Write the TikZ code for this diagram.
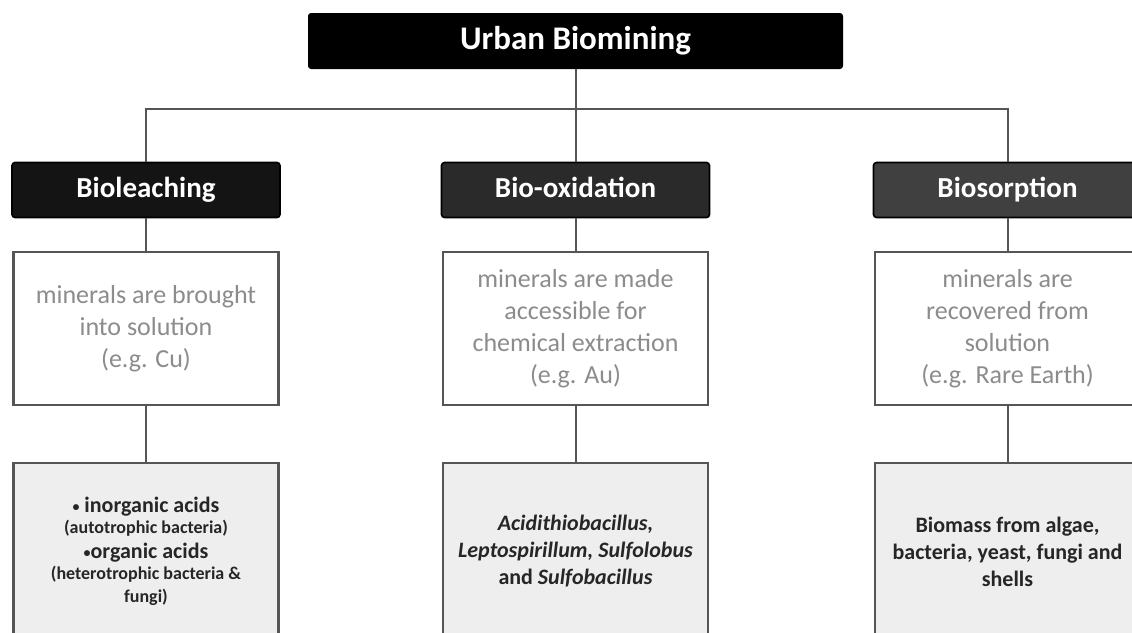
\documentclass[tikz,border=0pt]{standalone}
\usepackage{fontspec}
\setmainfont{Carlito}
\usepackage{tikz}
\definecolor{linegray}{HTML}{555555}
\definecolor{txtgray}{HTML}{8C8C8C}
\definecolor{boxfill}{HTML}{EEEEEE}
\definecolor{darkA}{HTML}{141414}
\definecolor{darkB}{HTML}{2A2A2A}
\definecolor{darkC}{HTML}{404040}
\newcommand{\smallbullet}{{\fontsize{7}{8}\selectfont\raisebox{0.8pt}{\textbullet}}}

\begin{document}
\begin{tikzpicture}[x=0.5pt,y=-0.5pt,
	conn/.style={draw=linegray, line width=1pt},
	topbox/.style={fill=black, rounded corners=1.5pt, text=white, font=\bfseries\fontsize{16.5}{20}\selectfont, minimum width=267.5pt, minimum height=28pt, inner sep=0pt, text height=11.5pt, text depth=3.5pt},
	headbox/.style={fill=#1, draw=black, line width=0.8pt, rounded corners=1.5pt, text=white, font=\bfseries\fontsize{14.5}{17}\selectfont, minimum width=134pt, minimum height=27.5pt, inner sep=0pt, text height=10pt, text depth=3pt},
	infobox/.style={draw=linegray, line width=1.2pt, fill=white, text=txtgray, align=center, font=\fontsize{13}{16}\selectfont, minimum width=132.5pt, minimum height=76.5pt, inner sep=0pt},
	orgbox/.style={draw=linegray, line width=1.2pt, fill=boxfill, text=black!85, align=center, font=\bfseries\fontsize{11}{13.5}\selectfont, minimum width=132.5pt, minimum height=88.5pt, inner sep=0pt}]
	\clip (0,0) rectangle (1132,633);
	\useasboundingbox (0,0) rectangle (1132,633);
	\node[topbox] (top) at (575.5,41) {Urban Biomining};
	\node[headbox=darkA] (head1) at (146,190) {Bioleaching};
	\node[headbox=darkB] (head2) at (575.5,190) {Bio-oxidation};
	\node[headbox=darkC] (head3) at (1007.5,190) {Biosorption};
	\node[infobox] (info1) at (146,328.5) {minerals are brought\\into solution\\(e.g. Cu)};
	\node[infobox] (info2) at (575.5,328.5) {minerals are made\\accessible for\\chemical extraction\\(e.g. Au)};
	\node[infobox] (info3) at (1007.5,328.5) {minerals are\\recovered from\\solution\\(e.g. Rare Earth)};
	\node[orgbox] (org1) at (146,551.5) {\smallbullet\ inorganic acids\\[-3pt]{\fontsize{9}{11}\selectfont(autotrophic bacteria)}\\[-1pt]\smallbullet organic acids\\[-3pt]{\fontsize{9}{11}\selectfont(heterotrophic bacteria \&}\\[-2pt]{\fontsize{9}{11}\selectfont fungi)}};
	\node[orgbox] (org2) at (575.5,551.5) {\textit{Acidithiobacillus,}\\\textit{Leptospirillum, Sulfolobus}\\and \textit{Sulfobacillus}};
	\node[orgbox] (org3) at (1007.5,551.5) {Biomass from algae,\\bacteria, yeast, fungi and\\shells};
	\coordinate (bus) at (575.5,109);
	\draw[conn] (top.south) -- (head2.north);
	\draw[conn] (head1.north) |- (bus) -| (head3.north);
	\foreach \i in {1,2,3} {
		\draw[conn] (head\i.south) -- (info\i.north);
		\draw[conn] (info\i.south) -- (org\i.north);
	}
\end{tikzpicture}
\end{document}
